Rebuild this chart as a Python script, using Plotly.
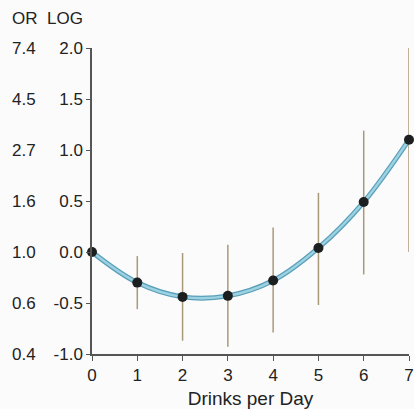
import plotly.graph_objects as go

drinks = [0, 1, 2, 3, 4, 5, 6, 7]
log_or = [0.0, -0.30, -0.44, -0.43, -0.28, 0.04, 0.49, 1.10]
ci_upper = [0.0, -0.04, -0.01, 0.07, 0.24, 0.58, 1.19, 2.03]
ci_lower = [0.0, -0.56, -0.87, -0.93, -0.79, -0.52, -0.22, 0.0]
log_ticks = [2.0, 1.5, 1.0, 0.5, 0.0, -0.5, -1.0]
log_labels = ["2.0", "1.5", "1.0", "0.5", "0.0", "-0.5", "-1.0"]
or_labels = ["7.4", "4.5", "2.7", "1.6", "1.0", "0.6", "0.4"]

FONT = "Liberation Sans, Arial, Helvetica, sans-serif"
TXT = "#222222"
FS = 17

err_plus = [u - v for u, v in zip(ci_upper, log_or)]
err_minus = [v - l for v, l in zip(log_or, ci_lower)]

fig = go.Figure()
fig.add_trace(go.Scatter(
    x=drinks, y=log_or, mode="markers",
    marker=dict(size=1, color="rgba(0,0,0,0)"),
    error_y=dict(type="data", symmetric=False, array=err_plus, arrayminus=err_minus,
                 color="#a89a78", thickness=1.5, width=0),
    cliponaxis=False, hoverinfo="skip", showlegend=False))
fig.add_trace(go.Scatter(
    x=drinks, y=log_or, mode="lines",
    line=dict(shape="spline", smoothing=1.0, color="#5a9fb8", width=5),
    cliponaxis=False, showlegend=False))
fig.add_trace(go.Scatter(
    x=drinks, y=log_or, mode="lines",
    line=dict(shape="spline", smoothing=1.0, color="#9cd2e2", width=2.5),
    cliponaxis=False, showlegend=False))
fig.add_trace(go.Scatter(
    x=drinks, y=log_or, mode="markers",
    marker=dict(size=10, color="#1c1f1f"),
    cliponaxis=False, showlegend=False))

annotations = []
for v, lab in zip(log_ticks, or_labels):
    annotations.append(dict(x=0, xref="paper", y=v, yref="y", text=lab,
                            showarrow=False, xanchor="left", yanchor="middle", xshift=-82,
                            font=dict(size=FS, color=TXT, family=FONT)))
annotations.append(dict(x=0, y=1, xref="paper", yref="paper", text="OR", showarrow=False,
                        xanchor="left", yanchor="bottom", xshift=-82, yshift=18,
                        font=dict(size=FS, color=TXT, family=FONT)))
annotations.append(dict(x=0, y=1, xref="paper", yref="paper", text="LOG", showarrow=False,
                        xanchor="right", yanchor="bottom", xshift=-7, yshift=18,
                        font=dict(size=FS, color=TXT, family=FONT)))

fig.update_layout(
    width=414, height=409,
    margin=dict(l=92, r=5, t=48, b=55),
    paper_bgcolor="#fbfbfc", plot_bgcolor="#fbfbfc",
    font=dict(family=FONT, size=FS, color=TXT),
    annotations=annotations,
    xaxis=dict(range=[0, 7], tickmode="array", tickvals=drinks, automargin=False,
               showgrid=False, zeroline=False, showline=True, linecolor="#555555",
               linewidth=1.5, ticks="outside", ticklen=5, tickcolor="#555555",
               tickfont=dict(size=FS, color=TXT),
               title=dict(text="Drinks per Day", font=dict(size=19, color=TXT), standoff=8)),
    yaxis=dict(range=[-1.0, 2.0], tickmode="array", tickvals=log_ticks, ticktext=log_labels,
               automargin=False,
               showgrid=False, zeroline=False, showline=True, linecolor="#555555",
               linewidth=1.5, ticks="outside", ticklen=4, tickcolor="#555555",
               tickfont=dict(size=FS, color=TXT)),
)

fig.write_html("out.html", config={"displayModeBar": False},
               post_script="document.body.style.margin='0';document.body.style.overflow='hidden';")
